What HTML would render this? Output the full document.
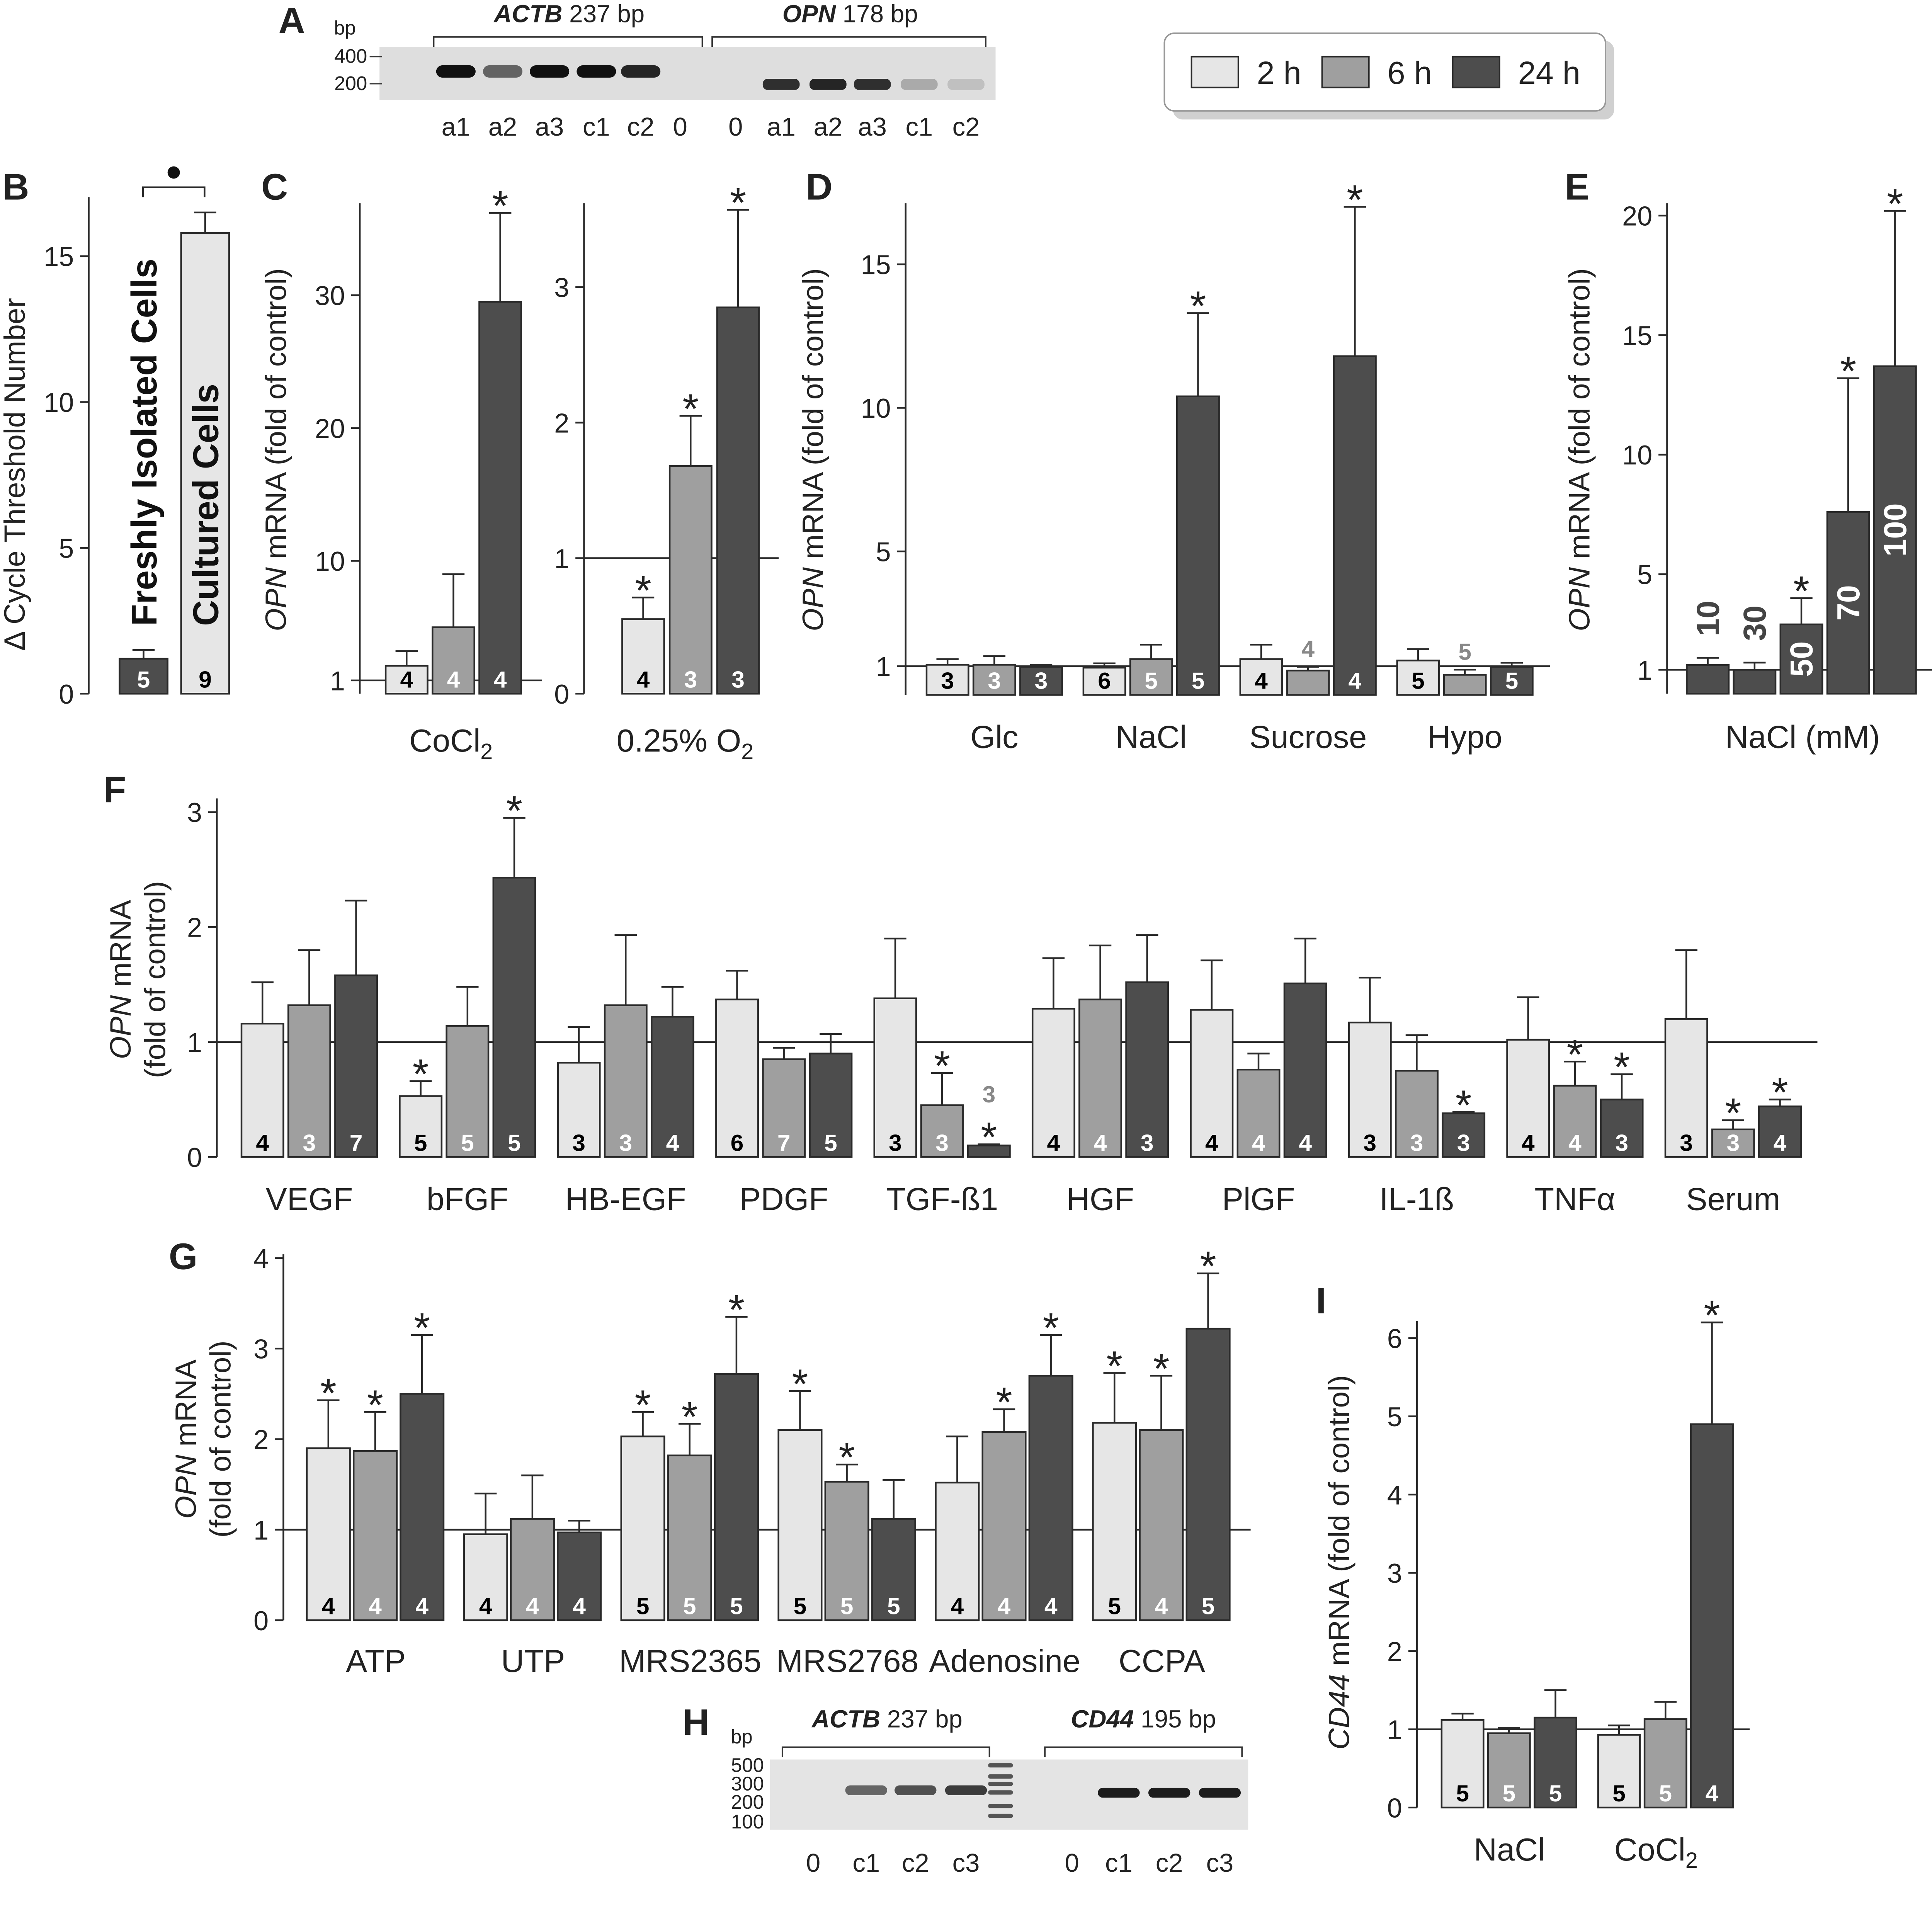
<!DOCTYPE html>
<html><head><meta charset="utf-8"><style>
html,body{margin:0;padding:0;background:#fff;width:100vw;height:100vh;overflow:hidden;}
svg{display:block;position:absolute;left:0;top:0;width:100vw;height:100vh;font-family:"Liberation Sans",Arial,sans-serif;}
</style></head><body>
<svg id="fig" viewBox="0 0 1568 1551.5" preserveAspectRatio="xMinYMin meet" xmlns="http://www.w3.org/2000/svg"></svg>
<script>
// ---------- DATA ----------
const seriesNames = ["2 h","6 h","24 h"];
// B
const bCats = ["Freshly Isolated Cells","Cultured Cells"];
const bVals = [1.2, 15.8];
const bErrs = [1.5, 16.5];
const bNs = ["5","9"];
// C CoCl2
const cCoVals = [2.1, 5.0, 29.5];
const cCoErrs = [3.2, 9.0, 36.2];
const cCoNs = ["4","4","4"];
const cCoStars = [0,0,1];
// C O2
const cO2Vals = [0.55, 1.68, 2.85];
const cO2Errs = [0.71, 2.05, 3.57];
const cO2Ns = ["4","3","3"];
const cO2Stars = [1,1,1];
// D
const dCats = ["Glc","NaCl","Sucrose","Hypo"];
const dVals = [[1.05,1.05,0.98],[0.95,1.25,10.4],[1.25,0.85,11.8],[1.2,0.7,0.98]];
const dErrs = [[1.25,1.35,1.05],[1.1,1.75,13.3],[1.75,0.98,17.0],[1.6,0.88,1.12]];
const dNs = [["3","3","3"],["6","5","5"],["4","4","4"],["5","5","5"]];
const dStars = [[0,0,0],[0,0,1],[0,0,1],[0,0,0]];
// E
const eConc = ["10","30","50","70","100"];
const eVals = [1.2, 1.0, 2.9, 7.6, 13.7];
const eErrs = [1.5, 1.3, 4.0, 13.2, 20.2];
const eStars = [0,0,1,1,1];
// F
const fCats = ["VEGF","bFGF","HB-EGF","PDGF","TGF-ß1","HGF","PlGF","IL-1ß","TNFα","Serum"];
const fVals = [[1.16,1.32,1.58],[0.53,1.14,2.43],[0.82,1.32,1.22],[1.37,0.85,0.9],[1.38,0.45,0.1],[1.29,1.37,1.52],[1.28,0.76,1.51],[1.17,0.75,0.38],[1.02,0.62,0.5],[1.2,0.24,0.44]];
const fErrs = [[1.52,1.8,2.23],[0.66,1.48,2.95],[1.13,1.93,1.48],[1.62,0.95,1.07],[1.9,0.73,0.11],[1.73,1.84,1.93],[1.71,0.9,1.9],[1.56,1.06,0.39],[1.39,0.83,0.72],[1.8,0.32,0.5]];
const fNs = [["4","3","7"],["5","5","5"],["3","3","4"],["6","7","5"],["3","3","3"],["4","4","3"],["4","4","4"],["3","3","3"],["4","4","3"],["3","3","4"]];
const fStars = [[0,0,0],[1,0,1],[0,0,0],[0,0,0],[0,1,1],[0,0,0],[0,0,0],[0,0,1],[0,1,1],[0,1,1]];
// G
const gCats = ["ATP","UTP","MRS2365","MRS2768","Adenosine","CCPA"];
const gVals = [[1.9,1.87,2.5],[0.95,1.12,0.97],[2.03,1.82,2.72],[2.1,1.53,1.12],[1.52,2.08,2.7],[2.18,2.1,3.22]];
const gErrs = [[2.43,2.3,3.15],[1.4,1.6,1.1],[2.3,2.17,3.35],[2.53,1.72,1.55],[2.03,2.33,3.15],[2.73,2.7,3.83]];
const gNs = [["4","4","4"],["4","4","4"],["5","5","5"],["5","5","5"],["4","4","4"],["5","4","5"]];
const gStars = [[1,1,1],[0,0,0],[1,1,1],[1,1,0],[0,1,1],[1,1,1]];
// I
const iCats = ["NaCl","CoCl2"];
const iVals = [[1.12,0.95,1.15],[0.93,1.13,4.9]];
const iErrs = [[1.2,1.02,1.5],[1.05,1.35,6.2]];
const iNs = [["5","5","5"],["5","5","4"]];
const iStars = [[0,0,0],[0,0,1]];

// ---------- HELPERS ----------
const NS = "http://www.w3.org/2000/svg";
const svg = document.getElementById('fig');
const FILL = ["#e6e6e6","#9f9f9f","#4d4d4d"];
const NCOL = ["#000","#fff","#fff"];
const SK = "#2a2a2a";
function mk(tag, attrs, parent){
  const e = document.createElementNS(NS, tag);
  for (const k in attrs) e.setAttribute(k, attrs[k]);
  (parent||svg).appendChild(e);
  return e;
}
function txt(s, x, y, size, parent, extra){
  const t = mk('text', Object.assign({x:x, y:y, 'font-size':size, fill:'#222'}, extra||{}), parent);
  t.textContent = s;
  return t;
}
function yScale(y0, ppu){ return v => y0 - v*ppu; }

function axis(g, x, yTop, yBot, ticks, ys, size){
  const a = mk('line', {x1:x, y1:yTop, x2:x, y2:yBot, stroke:SK, 'stroke-width':1.4}, g);
  
  
  ticks.forEach(v => {
    const y = ys(v);
    const tk = mk('line', {x1:x-7, y1:y, x2:x, y2:y, stroke:SK, 'stroke-width':1.4}, g);
    
    
    const tl = txt(String(v), x-12, y+8, size||22, g, {'text-anchor':'end'});
    
    
  });
}
function refLine(g, x1, x2, y){
  const l = mk('line', {x1:x1, y1:y, x2:x2, y2:y, stroke:SK, 'stroke-width':1.4}, g);
  
  
}
function bar(g, x, w, v, e, ys, k, n, star, y0){
  const top = ys(v), et = ys(e);
  const eb = mk('line', {x1:x+w/2, y1:top, x2:x+w/2, y2:et, stroke:SK, 'stroke-width':1.4}, g);
  
  
  const cap = mk('line', {x1:x+w/2-9, y1:et, x2:x+w/2+9, y2:et, stroke:SK, 'stroke-width':1.4}, g);
  
  
  const r = mk('rect', {x:x, y:top, width:w, height:Math.max(y0-top,0.5), fill:FILL[k], stroke:SK, 'stroke-width':1.4}, g);
  
  
  let above = et;
  if (star){
    const s = txt('*', x+w/2, above+6, 34, g, {'text-anchor':'middle'});
    
    
    above -= 26;
  }
  if (n){
    if (y0 - top >= 21){
      const nt = txt(n, x+w/2, y0-5, 19, g, {'text-anchor':'middle','font-weight':'bold', fill:NCOL[k]});
      
      
    } else {
      const nt = txt(n, x+w/2, above-8, 19, g, {'text-anchor':'middle','font-weight':'bold', fill:'#888'});
      
      
    }
  }
}
function ytitle(g, x, y, lines){
  const t = mk('text', {transform:'translate('+x+','+y+') rotate(-90)', 'font-size':24, 'text-anchor':'middle', fill:'#222'}, g);
  
  
  lines.forEach((ln, i) => {
    const ts = mk('tspan', {x:0, dy: i===0 ? (lines.length>1?-4:0) : 28}, t);
    if (ln.startsWith('OPN ') || ln.startsWith('CD44 ')){
      const parts = ln.split(' ');
      const it = mk('tspan', {'font-style':'italic'}, ts); it.textContent = parts[0];
      const rest = mk('tspan', {}, ts); rest.textContent = ' ' + parts.slice(1).join(' ');
    } else ts.textContent = ln;
  });
}
function letter(s, x, y){
  const t = txt(s, x, y, 30, svg, {'font-weight':'bold'});
  
  
}
function catLabel(g, s, x, y, sub){
  const t = txt(s, x, y, 26, g, {'text-anchor':'middle'});
  if (sub){ const ts = mk('tspan', {'font-size':18, dy:6}, t); ts.textContent = sub; }
  
  
  return t;
}
function group(name){ const g = mk('g', {});   return g; }

// ---------- PANEL A (gel) ----------
(function(){
  const g = group('panel-a-gel');
  letter('A', 226, 27);
  txt('bp', 271, 28, 16, g);
  txt('400', 298, 51, 16, g, {'text-anchor':'end'});
  txt('200', 298, 73, 16, g, {'text-anchor':'end'});
  const bg = mk('rect', {x:308, y:38, width:500, height:43, fill:'#dedede'}, g);
   
  mk('line', {x1:300, y1:46, x2:310, y2:46, stroke:'#333'}, g);
  mk('line', {x1:300, y1:68, x2:310, y2:68, stroke:'#333'}, g);
  const lanesA = [["a1",370,1],["a2",408,0.6],["a3",446,1],["c1",484,1],["c2",520,0.9],["0",552,0]];
  const lanesO = [["0",597,0],["a1",634,0.85],["a2",672,0.9],["a3",708,0.85],["c1",746,0.25],["c2",784,0.15]];
  lanesA.forEach(l => {
    if (l[2]>0){ const b = mk('rect',{x:l[1]-16,y:53,width:32,height:10,rx:5,fill:'#111','fill-opacity':l[2]},g);   }
    const t = txt(l[0], l[1], 110, 21, g, {'text-anchor':'middle'});  
  });
  lanesO.forEach(l => {
    if (l[2]>0){ const b = mk('rect',{x:l[1]-15,y:64,width:30,height:9,rx:4,fill:'#111','fill-opacity':l[2]},g);   }
    const t = txt(l[0], l[1], 110, 21, g, {'text-anchor':'middle'});  
  });
  mk('path', {d:'M352 38 V30 H570 V38 M578 38 V30 H800 V38', fill:'none', stroke:'#333', 'stroke-width':1.2}, g);
  const t1 = txt('', 462, 18, 20, g, {'text-anchor':'middle'});
  t1.innerHTML = '<tspan font-weight="bold" font-style="italic">ACTB</tspan> 237 bp';
   
  const t2 = txt('', 690, 18, 20, g, {'text-anchor':'middle'});
  t2.innerHTML = '<tspan font-weight="bold" font-style="italic">OPN</tspan> 178 bp';
   
})();

// ---------- LEGEND ----------
(function(){
  const g = group('legend');
  mk('rect', {x:952, y:33, width:358, height:64, rx:8, fill:'#d0d0d0'}, g);
  const b = mk('rect', {x:945, y:27, width:358, height:63, rx:8, fill:'#fff', stroke:'#999', 'stroke-width':1.2}, g);
   
  const xs = [967, 1073, 1179];
  seriesNames.forEach((s,k) => {
    const r = mk('rect', {x:xs[k], y:46, width:38, height:25, fill:FILL[k], stroke:SK, 'stroke-width':1.2}, g);
     
    const t = txt(s, xs[k]+53, 68, 26, g);
     
  });
})();

// ---------- PANEL B ----------
(function(){
  const g = group('panel-b');
  letter('B', 2, 162);
  const y0 = 563, ys = yScale(y0, 23.67);
  axis(g, 72, 160, y0, [0,5,10,15], ys);
  ytitle(g, 20, 385, ['Δ Cycle Threshold Number']);
  const xs = [97,147], cols = [2,0];
  bVals.forEach((v,i) => {
    bar(g, xs[i], 39, v, bErrs[i], ys, cols[i], bNs[i], 0, y0);
  });
  bCats.forEach((c,i) => {
    const cx = xs[i]+20;
    const t = mk('text', {transform:'translate('+(cx+10)+',508) rotate(-90)', 'font-size':29, 'font-weight':'bold', fill:'#111'}, g);
    t.textContent = c;
     
  });
  mk('path', {d:'M116 160 V152 H166 V160', fill:'none', stroke:SK, 'stroke-width':1.4}, g);
  const d = mk('circle', {cx:141, cy:140, r:5, fill:'#111'}, g);
   
})();

// ---------- PANEL C ----------
(function(){
  const g = group('panel-c');
  letter('C', 212, 162);
  const y0 = 563, ys = yScale(y0, 10.78);
  axis(g, 292, 165, y0, [1,10,20,30], ys);
  ytitle(g, 232, 365, ['OPN mRNA (fold of control)']);
  refLine(g, 292, 440, ys(1));
  cCoVals.forEach((v,k) => bar(g, 313+k*38, 34, v, cCoErrs[k], ys, k, cCoNs[k], cCoStars[k], y0));
  catLabel(g, 'CoCl', 366, 610, '2');
  const g2 = group('panel-c-hypoxia');
  const ys2 = yScale(y0, 110);
  axis(g2, 474, 165, y0, [0,1,2,3], ys2);
  refLine(g2, 474, 632, ys2(1));
  cO2Vals.forEach((v,k) => bar(g2, 505+k*38.5, 34, v, cO2Errs[k], ys2, k, cO2Ns[k], cO2Stars[k], y0));
  catLabel(g2, '0.25% O', 556, 610, '2');
})();

// ---------- PANEL D ----------
(function(){
  const g = group('panel-d');
  letter('D', 654, 162);
  const y0 = 564, ys = yScale(y0, 23.3);
  axis(g, 735, 165, y0, [1,5,10,15], ys);
  ytitle(g, 668, 365, ['OPN mRNA (fold of control)']);
  refLine(g, 735, 1258, ys(1));
  dCats.forEach((c,gi) => {
    const gx = 752 + gi*127.3;
    dVals[gi].forEach((v,k) => bar(g, gx+k*38, 34, v, dErrs[gi][k], ys, k, dNs[gi][k], dStars[gi][k], y0));
    catLabel(g, c, gx+55, 607);
  });
})();

// ---------- PANEL E ----------
(function(){
  const g = group('panel-e');
  letter('E', 1270, 162);
  const y0 = 563, ys = yScale(y0, 19.4);
  axis(g, 1353, 165, y0, [1,5,10,15,20], ys);
  ytitle(g, 1290, 365, ['OPN mRNA (fold of control)']);
  refLine(g, 1353, 1568, ys(1));
  eVals.forEach((v,i) => {
    const x = 1369 + i*38;
    bar(g, x, 34, v, eErrs[i], ys, 2, null, eStars[i], y0);
    const top = ys(v);
    let cy, col;
    if (y0 - top > 50){ cy = (top + y0)/2; col = '#fff'; }
    else { cy = ys(eErrs[i]) - 32; col = '#444'; }
    const t = mk('text', {transform:'translate('+(x+26)+','+cy+') rotate(-90)', 'font-size':26, 'font-weight':'bold', 'text-anchor':'middle', fill:col}, g);
    t.textContent = eConc[i];
     
  });
  catLabel(g, 'NaCl (mM)', 1463, 607);
})();

// ---------- PANEL F ----------
(function(){
  const g = group('panel-f');
  letter('F', 84, 651);
  const y0 = 939, ys = yScale(y0, 93.3);
  axis(g, 176, 648, y0, [0,1,2,3], ys);
  ytitle(g, 110, 795, ['OPN mRNA','(fold of control)']);
  refLine(g, 176, 1475, ys(1));
  fCats.forEach((c,gi) => {
    const gx = 196 + gi*128.4;
    fVals[gi].forEach((v,k) => bar(g, gx+k*38, 34, v, fErrs[gi][k], ys, k, fNs[gi][k], fStars[gi][k], y0));
    catLabel(g, c, gx+55, 982);
  });
})();

// ---------- PANEL G ----------
(function(){
  const g = group('panel-g');
  letter('G', 137, 1030);
  const y0 = 1315, ys = yScale(y0, 73.5);
  axis(g, 230, 1018, y0, [0,1,2,3,4], ys);
  ytitle(g, 163, 1168, ['OPN mRNA','(fold of control)']);
  refLine(g, 230, 1015, ys(1));
  gCats.forEach((c,gi) => {
    const gx = 249 + gi*127.6;
    gVals[gi].forEach((v,k) => bar(g, gx+k*38, 35, v, gErrs[gi][k], ys, k, gNs[gi][k], gStars[gi][k], y0));
    catLabel(g, c, gx+56, 1357);
  });
})();

// ---------- PANEL H (gel) ----------
(function(){
  const g = group('panel-h-gel');
  letter('H', 554, 1408);
  txt('bp', 593, 1415, 16, g);
  [['500',1438],['300',1453],['200',1468],['100',1484]].forEach(l => txt(l[0], 620, l[1], 16, g, {'text-anchor':'end'}));
  const bg = mk('rect', {x:625, y:1428, width:388, height:57, fill:'#e4e4e4'}, g);
   
  [1433,1442,1448,1455,1466,1474].forEach(y => mk('rect',{x:802,y:y-2,width:20,height:3.5,rx:1.5,fill:'#555'},g));
  const l1 = [["0",660,0],["c1",703,0.6],["c2",743,0.7],["c3",784,0.8]];
  const l2 = [["0",870,0],["c1",908,0.95],["c2",949,0.95],["c3",990,0.95]];
  l1.concat(l2).forEach((l,i) => {
    if (l[2]>0){ const b = mk('rect',{x:l[1]-17,y:i<4?1449:1451,width:34,height:8,rx:4,fill:'#111','fill-opacity':l[2]},g);   }
    const t = txt(l[0], l[1], 1519, 21, g, {'text-anchor':'middle'});
     
  });
  mk('path', {d:'M635 1426 V1418 H803 V1426 M848 1426 V1418 H1008 V1426', fill:'none', stroke:'#333', 'stroke-width':1.2}, g);
  const t1 = txt('', 720, 1402, 20, g, {'text-anchor':'middle'});
  t1.innerHTML = '<tspan font-weight="bold" font-style="italic">ACTB</tspan> 237 bp';
   
  const t2 = txt('', 928, 1402, 20, g, {'text-anchor':'middle'});
  t2.innerHTML = '<tspan font-weight="bold" font-style="italic">CD44</tspan> 195 bp';
   
})();

// ---------- PANEL I ----------
(function(){
  const g = group('panel-i');
  letter('I', 1068, 1066);
  const y0 = 1467, ys = yScale(y0, 63.5);
  axis(g, 1150, 1072, y0, [0,1,2,3,4,5,6], ys);
  ytitle(g, 1095, 1268, ['CD44 mRNA (fold of control)']);
  refLine(g, 1150, 1420, ys(1));
  iCats.forEach((c,gi) => {
    const gx = 1170 + gi*127;
    iVals[gi].forEach((v,k) => bar(g, gx+k*37.7, 34, v, iErrs[gi][k], ys, k, iNs[gi][k], iStars[gi][k], y0));
    if (c === 'CoCl2') catLabel(g, 'CoCl', gx+47, 1510, '2');
    else catLabel(g, c, gx+55, 1510);
  });
})();
</script>
</body></html>
